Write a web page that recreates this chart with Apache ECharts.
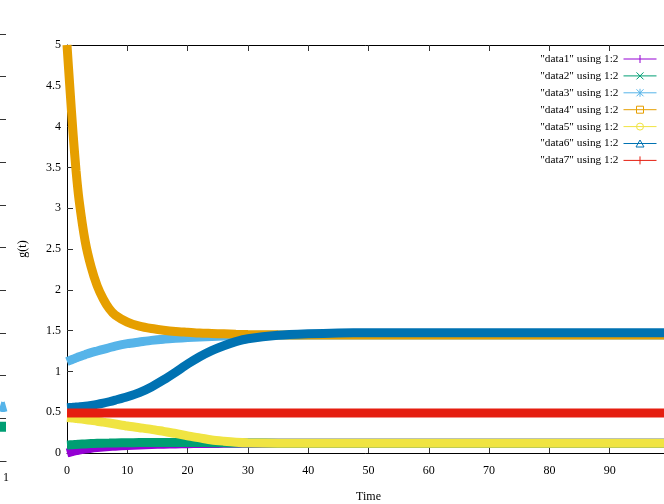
<!DOCTYPE html>
<html>
<head>
<meta charset="utf-8">
<script src="https://cdn.jsdelivr.net/npm/echarts@6/dist/echarts.min.js"></script>
<style>html,body{margin:0;padding:0;background:#fff}#c{width:664px;height:504px}</style>
</head>
<body>
<div id="c"></div>
<script>
var time  = [0,0.5,1,1.5,2,3,4,5,6,7,8,10,12,14,16,18,20,22,24,26,28,30,35,40,45,50,60,70,80,90,100];
var data1 = [0,0.01,0.02,0.028,0.036,0.048,0.058,0.066,0.073,0.079,0.084,0.092,0.099,0.104,0.108,0.111,0.114,0.116,0.117,0.118,0.119,0.12,0.12,0.12,0.12,0.12,0.12,0.12,0.12,0.12,0.12];
var data2 = [0.098,0.1,0.102,0.105,0.107,0.111,0.115,0.118,0.12,0.122,0.124,0.126,0.128,0.129,0.13,0.13,0.13,0.129,0.127,0.125,0.123,0.122,0.121,0.12,0.12,0.12,0.12,0.12,0.12,0.12,0.12];
var data3 = [1.12,1.135,1.15,1.165,1.18,1.205,1.23,1.25,1.27,1.29,1.31,1.34,1.36,1.38,1.395,1.405,1.415,1.422,1.428,1.433,1.437,1.44,1.443,1.445,1.445,1.445,1.445,1.445,1.445,1.445,1.445];
var data4 = [5.0,4.45,3.92,3.46,3.1,2.6,2.28,2.05,1.89,1.77,1.69,1.605,1.555,1.525,1.505,1.49,1.48,1.47,1.465,1.46,1.455,1.452,1.448,1.446,1.445,1.445,1.445,1.445,1.445,1.445,1.445];
var data5 = [0.435,0.432,0.428,0.424,0.42,0.41,0.4,0.39,0.378,0.367,0.355,0.33,0.31,0.29,0.265,0.24,0.21,0.185,0.16,0.145,0.133,0.126,0.121,0.12,0.12,0.12,0.12,0.12,0.12,0.12,0.12];
var data6 = [0.555,0.557,0.56,0.563,0.566,0.573,0.583,0.595,0.61,0.628,0.648,0.69,0.74,0.81,0.895,0.99,1.09,1.18,1.255,1.315,1.365,1.4,1.442,1.46,1.47,1.474,1.475,1.475,1.475,1.475,1.475];
var data7 = [0.49,0.49,0.49,0.49,0.49,0.49,0.49,0.49,0.49,0.49,0.49,0.49,0.49,0.49,0.49,0.49,0.49,0.49,0.49,0.49,0.49,0.49,0.49,0.49,0.49,0.49,0.49,0.49,0.49,0.49,0.49];
var seriesNames = ['"data1" using 1:2','"data2" using 1:2','"data3" using 1:2','"data4" using 1:2','"data5" using 1:2','"data6" using 1:2','"data7" using 1:2'];
var colors = ['#9400d3','#009e73','#56b4e9','#e69f00','#f0e442','#0072b2','#e51e10'];
// partial neighbouring panel on the far left (only its right edge is visible)
var leftX = [0.9,0.95,1.0];
var leftBlue = [0.128,0.126,0.128];
var leftGreen = [0.08,0.08,0.08];

var box = 'M0 0 M33 10 M0 5 L33 5 ';
var icons = [
  box + 'M16.5 1 L16.5 9',
  box + 'M13 1.5 L20 8.5 M13 8.5 L20 1.5',
  box + 'M16.5 1 L16.5 9 M13 1.5 L20 8.5 M13 8.5 L20 1.5',
  box + 'M13 1.5 L20 1.5 L20 8.5 L13 8.5 Z',
  box + 'M20 5 A3.5 3.5 0 1 1 13 5 A3.5 3.5 0 1 1 20 5 Z',
  box + 'M16.5 1.5 L20.5 8.5 L12.5 8.5 Z',
  box + 'M16.5 1 L16.5 9'
];

function zip(xs, ys){ return xs.map(function(x,i){ return [x, ys[i]]; }); }
var all = [data1,data2,data3,data4,data5,data6,data7];
var font = 'Liberation Serif';

var series = all.map(function(d,i){
  return {
    name: seriesNames[i], type:'line', xAxisIndex:0, yAxisIndex:0,
    data: zip(time, d), showSymbol:false, smooth:0.25, clip:true,
    lineStyle:{color:colors[i], width:9}, itemStyle:{color:colors[i]}
  };
});
series.push({type:'line', xAxisIndex:2, yAxisIndex:1, data: zip(leftX,leftBlue), showSymbol:false,
  lineStyle:{color:colors[2], width:10}, itemStyle:{color:colors[2]}, clip:false});
series.push({type:'line', xAxisIndex:2, yAxisIndex:1, data: zip(leftX,leftGreen), showSymbol:false,
  lineStyle:{color:colors[1], width:10}, itemStyle:{color:colors[1]}, clip:false});

var axisLine = {show:true, lineStyle:{color:'#000', width:1}};
var tick = {show:true, inside:true, length:6, lineStyle:{color:'#333'}};
var lbl = {fontFamily:font, fontSize:12, color:'#000'};

var chart = echarts.init(document.getElementById('c'), null, {renderer:'canvas'});
chart.setOption({
  animation:false,
  backgroundColor:'#fff',
  grid:[
    {left:67, top:45, width:603, height:408, containLabel:false, outerBoundsMode:'none'},
    {left:0, top:34, width:6, height:427, containLabel:false, outerBoundsMode:'none'}
  ],
  legend:{
    orient:'vertical', right:2, top:48.5, align:'right',
    itemWidth:33, itemHeight:10, itemGap:5.9,
    textStyle:{fontFamily:font, fontSize:11.3, color:'#000'},
    itemStyle:{color:'transparent', borderWidth:1},
    data: seriesNames.map(function(n,i){ return {name:n, icon:'path://'+icons[i], itemStyle:{color:'transparent', borderColor:colors[i], borderWidth:1}}; })
  },
  xAxis:[
    {type:'value', gridIndex:0, min:0, max:100, interval:10, position:'bottom',
     axisLine:axisLine, axisTick:tick, splitLine:{show:false},
     axisLabel:Object.assign({margin:12, showMaxLabel:false}, lbl),
     name:'Time', nameLocation:'middle', nameGap:38, nameTextStyle:lbl},
    {type:'value', gridIndex:0, min:0, max:100, interval:10, position:'top',
     axisLine:axisLine, axisTick:tick, splitLine:{show:false}, axisLabel:{show:false}},
    {type:'value', gridIndex:1, min:0.9, max:1, interval:0.1, position:'bottom',
     axisLine:axisLine, axisTick:{show:false}, splitLine:{show:false},
     axisLabel:Object.assign({margin:11, showMinLabel:false}, lbl)}
  ],
  yAxis:[
    {type:'value', gridIndex:0, min:0, max:5, interval:0.5,
     axisLine:axisLine, axisTick:tick, splitLine:{show:false},
     axisLabel:Object.assign({margin:6}, lbl),
     name:'g(t)', nameLocation:'middle', nameGap:38, nameTextStyle:lbl},
    {type:'value', gridIndex:1, min:0, max:1, interval:0.1, position:'right',
     axisLine:{show:false}, axisTick:{show:true, inside:true, length:6, lineStyle:{color:'#333'}},
     splitLine:{show:false}, axisLabel:{show:false}}
  ],
  series: series
});
</script>
</body>
</html>
